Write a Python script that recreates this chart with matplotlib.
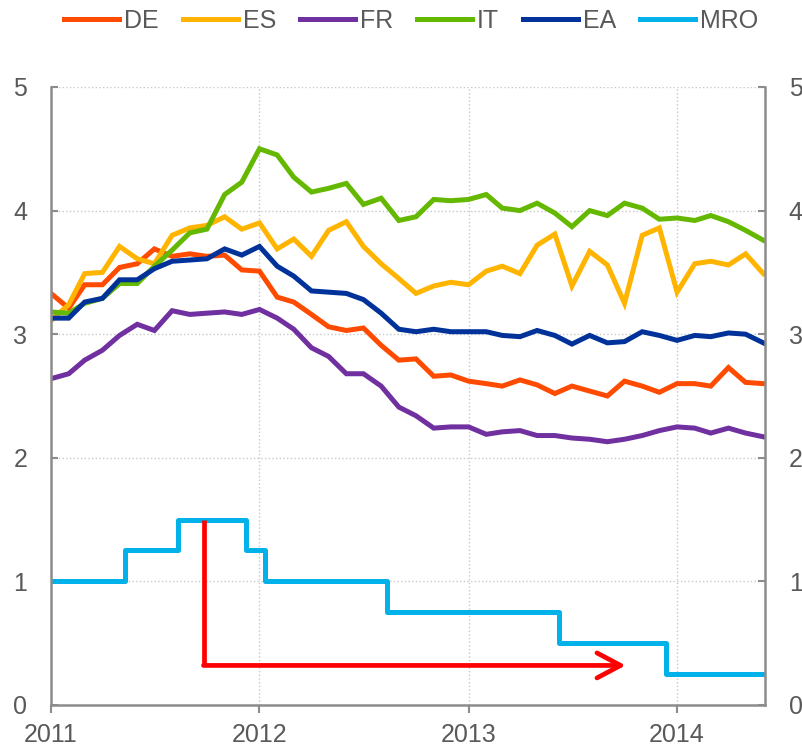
import numpy as np
import pandas as pd
import matplotlib
matplotlib.use("Agg")
import matplotlib.pyplot as plt
import matplotlib.dates as mdates

# monthly yields, Jan 2011 - Jun 2014
months = pd.date_range("2011-01-01", periods=42, freq="MS")

de = [3.33, 3.21, 3.40, 3.40, 3.54, 3.57, 3.69, 3.63, 3.65, 3.63, 3.64, 3.52,
      3.51, 3.30, 3.26, 3.16, 3.06, 3.03, 3.05, 2.91, 2.79, 2.80, 2.66, 2.67,
      2.62, 2.60, 2.58, 2.63, 2.59, 2.52, 2.58, 2.54, 2.50, 2.62, 2.58, 2.53,
      2.60, 2.60, 2.58, 2.73, 2.61, 2.60]
es = [3.11, 3.24, 3.49, 3.50, 3.71, 3.61, 3.57, 3.80, 3.86, 3.88, 3.95, 3.85,
      3.90, 3.69, 3.77, 3.63, 3.84, 3.91, 3.71, 3.57, 3.45, 3.33, 3.39, 3.42,
      3.40, 3.51, 3.55, 3.49, 3.72, 3.81, 3.39, 3.67, 3.56, 3.25, 3.80, 3.86,
      3.34, 3.57, 3.59, 3.56, 3.65, 3.49]
fr = [2.64, 2.68, 2.79, 2.87, 2.99, 3.08, 3.03, 3.19, 3.16, 3.17, 3.18, 3.16,
      3.20, 3.13, 3.04, 2.89, 2.82, 2.68, 2.68, 2.58, 2.41, 2.34, 2.24, 2.25,
      2.25, 2.19, 2.21, 2.22, 2.18, 2.18, 2.16, 2.15, 2.13, 2.15, 2.18, 2.22,
      2.25, 2.24, 2.20, 2.24, 2.20, 2.17]
it = [3.18, 3.17, 3.25, 3.29, 3.41, 3.41, 3.55, 3.68, 3.82, 3.85, 4.13, 4.23,
      4.50, 4.45, 4.27, 4.15, 4.18, 4.22, 4.05, 4.10, 3.92, 3.95, 4.09, 4.08,
      4.09, 4.13, 4.02, 4.00, 4.06, 3.98, 3.87, 4.00, 3.96, 4.06, 4.02, 3.93,
      3.94, 3.92, 3.96, 3.91, 3.84, 3.76]
ea = [3.13, 3.13, 3.26, 3.29, 3.44, 3.44, 3.53, 3.59, 3.60, 3.61, 3.69, 3.64,
      3.71, 3.55, 3.47, 3.35, 3.34, 3.33, 3.28, 3.17, 3.04, 3.02, 3.04, 3.02,
      3.02, 3.02, 2.99, 2.98, 3.03, 2.99, 2.92, 2.99, 2.93, 2.94, 3.02, 2.99,
      2.95, 2.99, 2.98, 3.01, 3.00, 2.93]

# main refinancing rate, change dates as drawn
mro_dates = pd.to_datetime(["2011-01-01", "2011-05-11", "2011-08-11", "2011-12-08",
                            "2012-01-11", "2012-08-11", "2013-06-08", "2013-12-13",
                            "2014-06-04"])
mro = [1.0, 1.25, 1.5, 1.25, 1.0, 0.75, 0.5, 0.25, 0.25]

# red arrow path
arrow_x = pd.to_datetime(["2011-09-25", "2011-09-25", "2013-10-03"])
arrow_y = [1.5, 0.32, 0.32]

names = ["DE", "ES", "FR", "IT", "EA"]
colors = ["#FF4B00", "#FFB400", "#7030A0", "#65B800", "#003299"]
mro_color = "#00B1EA"
grey = "#595959"

plt.rcParams["font.family"] = ["Liberation Sans", "DejaVu Sans"]

fig = plt.figure(figsize=(8.03, 7.48), dpi=100)
ax = fig.add_axes([0.0635, 0.0575, 0.8892, 0.8262])

for vals, name, c in zip([de, es, fr, it, ea], names, colors):
    ax.plot(months, vals, color=c, lw=3.6, label=name, solid_joinstyle="miter")
ax.step(mro_dates, mro, where="post", color=mro_color, lw=3.6, label="MRO")

ax.plot(arrow_x[:2], arrow_y[:2], color="red", lw=3.4, solid_capstyle="butt")
ax.annotate("", xy=(arrow_x[2], arrow_y[2]), xytext=(arrow_x[1], arrow_y[1]),
            arrowprops=dict(arrowstyle="->,head_length=0.85,head_width=0.45",
                            color="red", lw=3.4, mutation_scale=20,
                            shrinkA=0, shrinkB=0))

ax.set_ylim(0, 5)
ax.set_xlim(pd.Timestamp("2011-01-01"), pd.Timestamp("2014-06-04"))
ax.xaxis.set_major_locator(mdates.YearLocator())
ax.xaxis.set_major_formatter(mdates.DateFormatter("%Y"))
ax.set_yticks(range(6))

ax.grid(True, color="#C8C8C8", ls=":", lw=1)
ax.set_axisbelow(True)

for side in ["left", "right", "bottom"]:
    ax.spines[side].set_color("#8C8C8C")
    ax.spines[side].set_linewidth(1.8)
ax.spines["top"].set_visible(False)

ax.tick_params(axis="y", direction="in", length=5, width=1.5, color="#8C8C8C",
               labelsize=18, labelcolor=grey, pad=17, right=True, labelright=True)
ax.tick_params(axis="x", direction="out", length=6, width=1.5, color="#8C8C8C",
               labelsize=18, labelcolor=grey, pad=7)

fig.legend(loc="center", bbox_to_anchor=(0.512, 0.972), ncol=6, frameon=False,
           fontsize=18, handlelength=2.2, handletextpad=0.2, columnspacing=0.95,
           labelcolor=grey, borderaxespad=0)

fig.savefig("out.png", dpi=100)
